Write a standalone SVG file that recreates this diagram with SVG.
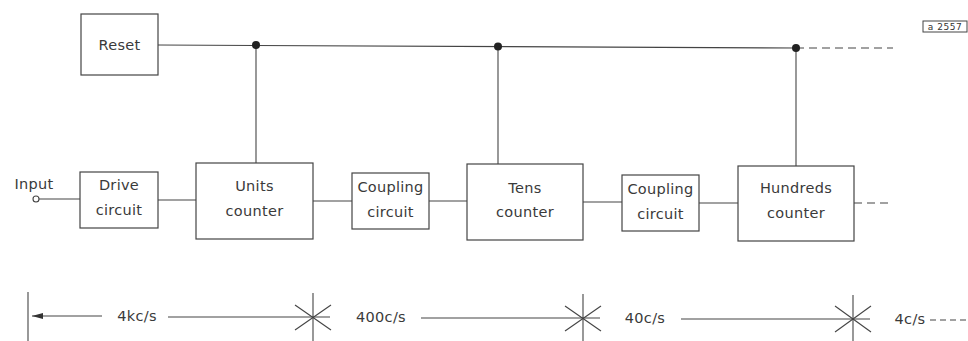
<svg xmlns="http://www.w3.org/2000/svg" width="968" height="341" viewBox="0 0 968 341">
<style>
.b{fill:#fff;stroke:#444;stroke-width:1.2}
.l{fill:none;stroke:#444;stroke-width:1.1}
.d{fill:none;stroke:#444;stroke-width:1.1;stroke-dasharray:8 5}
.t{font-family:"DejaVu Sans",sans-serif;font-size:14.5px;fill:#3a3a3a;text-anchor:middle;letter-spacing:0.3px}
.s{font-family:"DejaVu Sans",sans-serif;font-size:9px;fill:#333;text-anchor:middle;letter-spacing:0.5px}
</style>
<defs>
<marker id="ah" markerWidth="12" markerHeight="8" refX="11" refY="4" orient="auto" markerUnits="userSpaceOnUse">
<path d="M0,1 L11,4 L0,7 Z" fill="#333"/>
</marker>
</defs>
<rect width="968" height="341" fill="#fff"/>
<g id="connectors">
<line class="l" x1="158" y1="45" x2="796" y2="48"/>
<line class="d" x1="796" y1="48" x2="893" y2="48"/>
<line class="l" x1="256" y1="45" x2="256" y2="163"/>
<line class="l" x1="498" y1="46.5" x2="498" y2="164"/>
<line class="l" x1="796" y1="48" x2="796" y2="166"/>
<circle cx="256" cy="45" r="4" fill="#222"/>
<circle cx="498" cy="46.5" r="4" fill="#222"/>
<circle cx="796" cy="48" r="4" fill="#222"/>
<line class="l" x1="39" y1="199" x2="80" y2="199"/>
<line class="l" x1="158" y1="200" x2="196" y2="200"/>
<line class="l" x1="313" y1="201" x2="352" y2="201"/>
<line class="l" x1="429" y1="201" x2="467" y2="201"/>
<line class="l" x1="583" y1="202" x2="622" y2="202"/>
<line class="l" x1="699" y1="203" x2="738" y2="203"/>
<line class="d" x1="854" y1="203" x2="893" y2="203"/>
</g>
<g id="input">
<circle cx="36" cy="199" r="3" fill="#fff" stroke="#444" stroke-width="1.1"/>
<text class="t" x="34" y="189">Input</text>
</g>
<g id="reset"><rect class="b" x="81" y="14" width="77" height="61"/><text class="t" x="119.5" y="50">Reset</text></g>
<g id="drive"><rect class="b" x="80" y="172" width="78" height="56"/><text class="t" x="119" y="190">Drive</text><text class="t" x="119" y="215">circuit</text></g>
<g id="units"><rect class="b" x="196" y="163" width="117" height="76"/><text class="t" x="254.5" y="191">Units</text><text class="t" x="254.5" y="216">counter</text></g>
<g id="coupling1"><rect class="b" x="352" y="173" width="77" height="56"/><text class="t" x="390.5" y="192">Coupling</text><text class="t" x="390.5" y="217">circuit</text></g>
<g id="tens"><rect class="b" x="467" y="164" width="116" height="76"/><text class="t" x="525" y="193">Tens</text><text class="t" x="525" y="217">counter</text></g>
<g id="coupling2"><rect class="b" x="622" y="175" width="77" height="56"/><text class="t" x="660.5" y="194">Coupling</text><text class="t" x="660.5" y="219">circuit</text></g>
<g id="hundreds"><rect class="b" x="738" y="166" width="116" height="75"/><text class="t" x="796" y="193">Hundreds</text><text class="t" x="796" y="218">counter</text></g>
<g id="tag"><rect x="923" y="21" width="44" height="11" fill="#fff" stroke="#444" stroke-width="1"/><text class="s" x="945" y="30">a 2557</text></g>
<g id="scale">
<line class="l" x1="28" y1="292" x2="28" y2="341"/>
<line class="l" x1="102" y1="316" x2="32" y2="316" marker-end="url(#ah)"/>
<text class="t" x="137" y="321">4kc/s</text>
<line class="l" x1="168" y1="317" x2="330" y2="317"/>
<g class="l"><line x1="313" y1="293" x2="313" y2="341"/><line x1="295" y1="305" x2="331" y2="330"/><line x1="295" y1="330" x2="331" y2="305"/></g>
<text class="t" x="381" y="322">400c/s</text>
<line class="l" x1="421" y1="318" x2="600" y2="318"/>
<g class="l"><line x1="583" y1="294" x2="583" y2="341"/><line x1="565" y1="306" x2="601" y2="331"/><line x1="565" y1="331" x2="601" y2="306"/></g>
<text class="t" x="645" y="323">40c/s</text>
<line class="l" x1="681" y1="319" x2="870" y2="319"/>
<g class="l"><line x1="853" y1="295" x2="853" y2="341"/><line x1="835" y1="306" x2="871" y2="332"/><line x1="835" y1="332" x2="871" y2="306"/></g>
<text class="t" x="910" y="324">4c/s</text>
<line class="d" x1="930" y1="320" x2="968" y2="320" style="stroke-dasharray:6 4"/>
</g>
</svg>
